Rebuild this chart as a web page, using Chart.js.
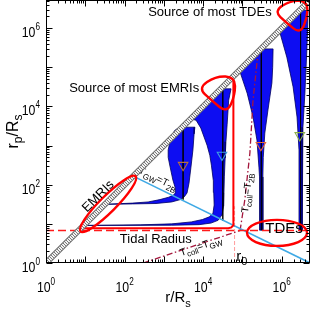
<!DOCTYPE html>
<html>
<head>
<meta charset="utf-8">
<script src="https://cdn.jsdelivr.net/npm/chart.js@4.4.1/dist/chart.umd.min.js"></script>
<style>
  html, body { margin: 0; padding: 0; background: #fff; }
  canvas { display: block; }
</style>
</head>
<body>
<canvas id="chart" width="311" height="310"></canvas>
<script>
// axis range in decades (both axes run 10^0 .. 10^6.72)
const logMax = 6.72;
const xTickExps = [0, 2, 4, 6];
const yTickExps = [0, 2, 4, 6];

// outlines of the blue regions, as [log10 r/Rs, log10 rp/Rs]
const funnelA = [[3.47,3.47],[3.79,3.47],[3.77,3.30],[3.74,2.89],[3.69,2.45],[3.64,2.04],[3.59,1.79],[3.52,1.69],
  [3.42,1.62],[3.20,1.56],[2.80,1.52],[2.20,1.51],[1.52,1.50],[2.20,1.53],[2.60,1.56],[2.90,1.62],[3.12,1.68],
  [3.24,1.73],[3.30,1.80],[3.29,1.92],[3.23,2.12],[3.16,2.45],[3.11,2.70],[3.11,2.89],[3.16,3.12],[3.27,3.38],
  [3.38,3.46],[3.47,3.47]];
const funnelB = [[4.45,4.45],[4.71,4.45],[4.65,4.16],[4.61,3.53],[4.58,3.10],[4.56,2.68],[4.54,2.20],[4.53,1.80],
  [4.52,1.45],[4.48,1.23],[4.38,1.09],[4.20,1.02],[3.90,0.98],[3.20,0.965],[0.97,0.96],[2.40,0.975],[3.20,1.00],
  [3.70,1.05],[3.98,1.11],[4.16,1.18],[4.25,1.27],[4.28,1.48],[4.27,1.80],[4.26,2.10],[4.21,2.50],[4.17,2.75],
  [4.10,3.01],[3.94,3.45],[3.82,3.65],[3.68,3.68],[4.45,4.45]];
const funnelC = [[5.47,5.47],[5.78,5.47],[5.77,5.00],[5.75,4.60],[5.65,3.91],[5.57,3.32],[5.53,2.70],[5.52,2.20],
  [5.52,1.50],[5.52,0.84],[5.44,0.84],[5.44,1.50],[5.43,2.20],[5.42,2.45],[5.37,3.14],[5.27,3.73],[5.12,4.34],
  [4.94,4.88],[5.47,5.47]];
const funnelD = [[6.46,6.46],[6.67,6.46],[6.66,6.00],[6.64,5.44],[6.59,4.34],[6.54,3.47],[6.52,2.63],[6.52,1.60],
  [6.52,0.82],[6.44,0.82],[6.44,1.60],[6.44,2.89],[6.39,3.73],[6.29,4.50],[6.13,5.26],[5.95,5.90],[6.46,6.46]];
const centerLines = [
  [[3.49,3.47],[3.49,1.62]],
  [[4.50,4.45],[4.50,1.08]],
  [[5.48,5.47],[5.48,0.84]],
  [[6.48,6.46],[6.48,0.82]]
];
const triangles = [[3.49,2.50],[4.48,2.76],[5.47,3.01],[6.46,3.26]];
const triangleColors = ['#b8703c', '#3fa0e0', '#e8683a', '#8cb048'];

// curves
const diagonal = [[0,0],[logMax,logMax]];
const tidalSolid = [[0.87,0.89],[4.64,0.89],[4.72,0.91],[4.76,0.96],[4.77,1.04],[4.77,4.72]];
const tidalDashed = [[0,0.83],[logMax,0.83]];
const r0Line = [[4.80,0],[4.80,1.45]];
const gwLine = [[2.22,2.22],[6.72,0.0]];
const collGW = [[2.47,0],[4.94,0.83]];
const coll2B = [[4.94,0.83],[5.06,1.61],[5.19,2.81],[5.27,4.16],[5.40,5.40]];

const FONT = '"Liberation Sans", Arial, Helvetica, sans-serif';
const toXY = arr => arr.map(([a, b]) => ({ x: 10 ** a, y: 10 ** b }));

function hatchPattern() {
    const c = document.createElement('canvas');
    c.width = 3; c.height = 3;
    const g = c.getContext('2d');
    g.fillStyle = '#f2f2f2';
    g.fillRect(0, 0, 3, 3);
    g.strokeStyle = '#7a7a7a';
    g.lineWidth = 1;
    g.beginPath(); g.moveTo(0, 0); g.lineTo(3, 3); g.stroke();
    return g.createPattern(c, 'repeat');
}

function toPx(chart, lx, ly) {
    return [chart.scales.x.getPixelForValue(10 ** lx), chart.scales.y.getPixelForValue(10 ** ly)];
}

// text with sub/superscript parts: [text, size, dy]
function textWidth(ctx, parts) {
    let w = 0;
    for (const [t, size] of parts) {
        ctx.font = size + 'px ' + FONT;
        w += ctx.measureText(t).width;
    }
    return w;
}

function richText(ctx, parts, x, y, angle) {
    ctx.save();
    ctx.translate(x, y);
    ctx.rotate((angle || 0) * Math.PI / 180);
    ctx.textAlign = 'left';
    ctx.textBaseline = 'alphabetic';
    let pos = 0;
    for (const [t, size, dy] of parts) {
        ctx.font = size + 'px ' + FONT;
        ctx.fillText(t, pos, dy || 0);
        pos += ctx.measureText(t).width;
    }
    ctx.restore();
}

function condensed(ctx, text, x, y, size, sx) {
    ctx.save();
    ctx.font = size + 'px ' + FONT;
    ctx.translate(x, y);
    ctx.scale(sx, 1);
    ctx.fillText(text, 0, 0);
    ctx.restore();
}

function loop(ctx, cx, cy, pts, s) {
    const p = pts.map(([dx, dy]) => [cx + dx * s, cy + dy * s]);
    const n = p.length;
    const mid = (a, b) => [(a[0] + b[0]) / 2, (a[1] + b[1]) / 2];
    const m0 = mid(p[n - 1], p[0]);
    ctx.beginPath();
    ctx.moveTo(m0[0], m0[1]);
    for (let i = 0; i < n; i++) {
        const q = mid(p[i], p[(i + 1) % n]);
        ctx.quadraticCurveTo(p[i][0], p[i][1], q[0], q[1]);
    }
    ctx.closePath();
    ctx.stroke();
}

const loopShape = [[-22,-4],[-4,-16],[15,-15],[15,3],[7,21],[-8,9]];

const figurePlugin = {
    id: 'figure',
    beforeDatasetsDraw(chart) {
        const ctx = chart.ctx;
        ctx.save();
        ctx.fillStyle = '#000';
        const [x, y] = toPx(chart, 2.34, 2.31);
        richText(ctx, [['T', 10], ['GW', 8, 3], ['=T', 10], ['2B', 8, 3]], x, y, 26);
        ctx.restore();
    },
    afterDatasetsDraw(chart) {
        const ctx = chart.ctx;
        ctx.save();
        // red ellipses
        ctx.strokeStyle = '#ff0000';
        ctx.lineWidth = 2.4;
        let [x, y] = toPx(chart, 1.58, 1.51);
        ctx.beginPath(); ctx.ellipse(x, y, 39, 8, -Math.PI / 4, 0, 2 * Math.PI); ctx.stroke();
        [x, y] = toPx(chart, 5.88, 0.77);
        ctx.beginPath(); ctx.ellipse(x, y, 30, 13, 0, 0, 2 * Math.PI); ctx.stroke();
        [x, y] = toPx(chart, 4.43, 4.37);
        loop(ctx, x, y, loopShape, 1);
        [x, y] = toPx(chart, 6.31, 6.34);
        loop(ctx, x, y, loopShape, 0.9);

        // labels
        ctx.fillStyle = '#000';
        ctx.textBaseline = 'middle';
        ctx.textAlign = 'left';
        ctx.font = '13px ' + FONT;
        [x, y] = toPx(chart, 2.60, 6.41);
        ctx.fillText('Source of most TDEs', x, y);
        [x, y] = toPx(chart, 0.59, 4.47);
        ctx.fillText('Source of most EMRIs', x, y);
        [x, y] = toPx(chart, 1.88, 0.61);
        ctx.fillText('Tidal Radius', x, y);
        ctx.textAlign = 'center';
        ctx.font = '15px ' + FONT;
        [x, y] = toPx(chart, 6.06, 0.86);
        ctx.fillText('TDEs', x, y);
        [x, y] = toPx(chart, 1.33, 1.70);
        ctx.save();
        ctx.translate(x, y);
        ctx.rotate(-Math.PI / 4);
        ctx.font = '13px ' + FONT;
        ctx.fillText('EMRIs', 0, 0);
        ctx.restore();

        [x, y] = toPx(chart, 5.14, 1.28);
        richText(ctx, [['T', 10], ['coll', 8, 3], ['=T', 10], ['2B', 8, 3]], x, y, -84);
        [x, y] = toPx(chart, 3.44, 0.18);
        richText(ctx, [['T', 10], ['coll', 8, 3], ['=T', 10], ['GW', 8, 3]], x, y, -18.5);
        [x, y] = toPx(chart, 4.84, 0.05);
        richText(ctx, [['r', 15], ['0', 11, 4]], x, y, 0);
        ctx.restore();
    },
    afterDraw(chart) {
        const ctx = chart.ctx;
        const xs = chart.scales.x, ys = chart.scales.y;
        const a = chart.chartArea;
        const l = a.left + 0.5, r = a.right - 0.5, t = a.top + 0.5, b = a.bottom - 0.5;
        ctx.save();
        ctx.strokeStyle = '#000';
        ctx.lineWidth = 1;
        ctx.strokeRect(l, t, r - l, b - t);
        ctx.beginPath();
        for (let k = 0; k <= 6; k++) {
            for (let m = 1; m <= 9; m++) {
                const v = m * 10 ** k;
                if (v > 10 ** logMax) break;
                const len = m === 1 ? 6 : 3;
                const px = Math.round(xs.getPixelForValue(v)) + 0.5;
                const py = Math.round(ys.getPixelForValue(v)) + 0.5;
                ctx.moveTo(px, b); ctx.lineTo(px, b - len);
                ctx.moveTo(px, t); ctx.lineTo(px, t + len);
                ctx.moveTo(l, py); ctx.lineTo(l + len, py);
                ctx.moveTo(r, py); ctx.lineTo(r - len, py);
            }
        }
        ctx.stroke();

        // tick labels 10^n
        ctx.fillStyle = '#000';
        ctx.textAlign = 'left';
        ctx.textBaseline = 'alphabetic';
        const sx = 0.82;
        const w10 = (() => { ctx.font = '15px ' + FONT; return ctx.measureText('10').width * sx; })();
        for (const e of xTickExps) {
            ctx.font = '10px ' + FONT;
            const we = ctx.measureText(String(e)).width * sx;
            const x0 = xs.getPixelForValue(10 ** e) - (w10 + we) / 2;
            condensed(ctx, '10', x0, 292, 15, sx);
            condensed(ctx, String(e), x0 + w10, 285, 10, sx);
        }
        for (const e of yTickExps) {
            ctx.font = '10px ' + FONT;
            const we = ctx.measureText(String(e)).width * sx;
            const cy = ys.getPixelForValue(10 ** e);
            condensed(ctx, String(e), 40 - we, cy + 2, 10, sx);
            condensed(ctx, '10', 40 - we - w10, cy + 9, 15, sx);
        }

        // axis titles
        const xt = [['r/R', 15], ['s', 11, 5]];
        richText(ctx, xt, (a.left + a.right) / 2 - textWidth(ctx, xt) / 2, 302, 0);
        const yt = [['r', 16], ['p', 12, 4], ['/R', 16], ['s', 12, 4]];
        richText(ctx, yt, 18, (a.top + a.bottom) / 2 + textWidth(ctx, yt) / 2, -90);
        ctx.restore();
    }
};

const funnelStyle = { fill: 'shape', backgroundColor: '#0d0df2', borderColor: '#00005e', borderWidth: 0.8, order: 50 };
const dashDot = [6, 2.5, 1.5, 2.5];

new Chart(document.getElementById('chart'), {
    type: 'line',
    data: {
        datasets: [
            ...[funnelA, funnelB, funnelC, funnelD].map(f => ({ data: toXY(f), ...funnelStyle })),
            ...centerLines.map(c => ({ data: toXY(c), borderColor: '#000', borderWidth: 0.8, order: 45 })),
            {
                data: toXY(triangles), showLine: false, pointStyle: 'triangle', rotation: 180,
                pointRadius: 5.5, pointBorderColor: triangleColors, pointBackgroundColor: 'rgba(0,0,0,0)',
                pointBorderWidth: 1.1, order: 40
            },
            { data: toXY(r0Line), borderColor: '#ff9c9c', borderWidth: 1, borderDash: [4, 2], order: 35 },
            { data: toXY(collGW), borderColor: '#a3163c', borderWidth: 1.3, borderDash: dashDot, order: 30 },
            { data: toXY(coll2B), borderColor: '#a3163c', borderWidth: 1.3, borderDash: dashDot, order: 30 },
            { data: toXY(gwLine), borderColor: '#3fa9e5', borderWidth: 1.6, order: 28 },
            { data: toXY(tidalDashed), borderColor: '#ff1a1a', borderWidth: 1.6, borderDash: [8, 4], order: 26 },
            { data: toXY(tidalSolid), borderColor: '#ff0000', borderWidth: 2, order: 25 },
            { data: toXY(diagonal), borderColor: '#707070', borderWidth: 6, order: 10, clip: 0 },
            { data: toXY(diagonal), borderColor: hatchPattern(), borderWidth: 4, order: 5, clip: 0 }
        ]
    },
    options: {
        responsive: false,
        animation: false,
        layout: { autoPadding: false, padding: { top: 0, right: 1, left: 0, bottom: 0 } },
        plugins: { legend: { display: false }, tooltip: { enabled: false } },
        elements: { point: { radius: 0 }, line: { tension: 0 } },
        scales: {
            x: {
                type: 'logarithmic', min: 1, max: 10 ** logMax,
                ticks: { display: false }, grid: { display: false }, border: { display: false },
                afterFit: (scale) => { scale.height = 47; }
            },
            y: {
                type: 'logarithmic', min: 1, max: 10 ** logMax,
                ticks: { display: false }, grid: { display: false }, border: { display: false },
                afterFit: (scale) => { scale.width = 46; }
            }
        }
    },
    plugins: [figurePlugin]
});
</script>
</body>
</html>
